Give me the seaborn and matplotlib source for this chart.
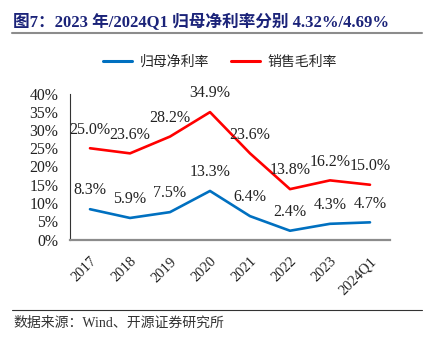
import matplotlib
matplotlib.use("Agg")
import matplotlib.pyplot as plt
from matplotlib.lines import Line2D
import seaborn as sns
import pandas as pd
import numpy as np

categories = ["2017", "2018", "2019", "2020", "2021", "2022", "2023", "2024Q1"]
net_margin = [8.3, 5.9, 7.5, 13.3, 6.4, 2.4, 4.3, 4.7]
gross_margin = [25.0, 23.6, 28.2, 34.9, 23.6, 13.8, 16.2, 15.0]
series_names = ["归母净利率", "销售毛利率"]
y_ticks = [0, 5, 10, 15, 20, 25, 30, 35, 40]
title_text = "图7：2023 年/2024Q1 归母净利率分别 4.32%/4.69%"
source_text = "数据来源：Wind、开源证券研究所"

sns.set_theme(style="white")
FAM = ["Liberation Serif", "Noto Sans CJK SC", "DejaVu Sans"]
plt.rcParams["font.family"] = FAM
plt.rcParams["axes.unicode_minus"] = False

df = pd.DataFrame({
    "x": categories * 2,
    "v": net_margin + gross_margin,
    "s": [series_names[0]] * len(categories) + [series_names[1]] * len(categories),
})

fig = plt.figure(figsize=(4.31, 3.41), dpi=100)
ax = fig.add_axes([70 / 431, 1 - 239.5 / 341, 320 / 431, 146 / 341])

palette = {series_names[0]: "#0070C0", series_names[1]: "#FF0000"}
sns.lineplot(data=df, x="x", y="v", hue="s", palette=palette, linewidth=1.9,
             ax=ax, legend=False, sort=False)

for vals in (net_margin, gross_margin):
    for i, v in enumerate(vals):
        ax.annotate(f"{v:.1f}%", (i, v), xytext=(0, 13.5), textcoords="offset points",
                    ha="center", va="center", fontsize=11.5, color="#222222",
                    family=FAM, annotation_clip=False)

ax.set_xlim(-0.5, len(categories) - 0.5)
ax.set_ylim(0, 40)
ax.set_yticks(y_ticks)
ax.set_yticklabels([f"{t}%" for t in y_ticks], fontsize=11.3, color="#222222")
ax.set_xticks(range(len(categories)))
ax.set_xticklabels(categories, rotation=45, ha="right", rotation_mode="anchor",
                   fontsize=10.5, color="#222222")
ax.set_xticks(np.arange(-0.5, len(categories), 1.0), minor=True)
ax.tick_params(axis="x", which="major", length=0, pad=11)
ax.tick_params(axis="x", which="minor", direction="in", length=4, width=0.8, color="#333333")
ax.tick_params(axis="y", direction="in", length=4, width=0.8, color="#333333", pad=8.5)
ax.set_xlabel("")
ax.set_ylabel("")
for sp in ("top", "right"):
    ax.spines[sp].set_visible(False)
ax.spines["left"].set_color("#333333")
ax.spines["left"].set_linewidth(0.8)
ax.spines["bottom"].set_color("#8C8C8C")
ax.spines["bottom"].set_linewidth(1.6)

handles = [Line2D([0], [0], color=palette[n], lw=2.2) for n in series_names]
fig.legend(handles, series_names, loc="center", bbox_to_anchor=(0.51, 1 - 62 / 341),
           ncol=2, frameon=False, prop={"family": FAM, "size": 10},
           handlelength=2.1, columnspacing=1.6, handletextpad=0.5)

fig.text(13 / 431, 1 - 22 / 341, title_text, fontsize=12, fontweight="bold",
         color="#1B2379", ha="left", va="center", family=FAM)
fig.add_artist(Line2D([12 / 431, 422 / 431], [1 - 33 / 341, 1 - 33 / 341],
                      color="#8C8C8C", lw=1.5))
fig.add_artist(Line2D([12 / 431, 422 / 431], [1 - 310 / 341, 1 - 310 / 341],
                      color="#333333", lw=0.8))
fig.text(13 / 431, 1 - 323 / 341, source_text, fontsize=10, color="#333333",
         ha="left", va="center", family=FAM)

fig.savefig("out.png", dpi=100, facecolor="white")
